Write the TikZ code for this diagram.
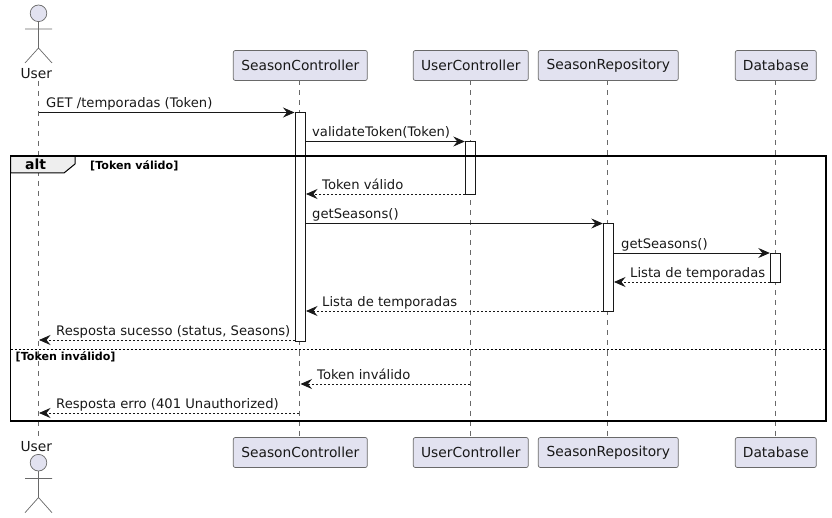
\documentclass[tikz,border=0pt]{standalone}
\usepackage{fontspec}
\setmainfont{DejaVu Sans}
\usetikzlibrary{arrows.meta}
\definecolor{pfill}{HTML}{E2E2F0}
\definecolor{pline}{HTML}{181818}
\definecolor{tabfill}{HTML}{EEEEEE}
\tikzset{
  part/.style={draw=pline!65!white,fill=pfill,rounded corners=2pt,line width=.7pt,minimum height=30pt,inner xsep=0pt,inner ysep=0pt,text=pline,font=\fontsize{13.8}{15}\selectfont},
  lifeline/.style={draw=pline!65!white,line width=.6pt,dash pattern=on 5pt off 5pt},
  bar/.style={draw=pline,fill=white,line width=.8pt,minimum width=10pt,inner sep=0pt,anchor=north},
  msg/.style={draw=pline,line width=.8pt,-{Stealth[length=11.5pt,width=10pt,inset=4pt]}},
  ret/.style={msg,dash pattern=on 2pt off 2pt},
  lbl/.style={anchor=base west,inner sep=0pt,text=pline,yshift=-.6pt,font=\fontsize{13.15}{15}\selectfont},
  frm/.style={anchor=base west,inner sep=0pt,text=black,font=\fontsize{11.1}{13}\bfseries\selectfont},
  actorline/.style={draw=pline!65!white,line width=.7pt},
}
\begin{document}
\begin{tikzpicture}[x=1pt,y=-1pt]
\useasboundingbox (0,0) rectangle (832,518);
% participants
\node[part,minimum width=134pt] (sc) at (300.3,65.5) {SeasonController};
\node[part,minimum width=115pt] (uc) at (470.8,65.5) {UserController};
\node[part,minimum width=140pt] (sr) at (608.3,65.5) {SeasonRepository};
\node[part,minimum width=81pt] (db) at (775.8,65.5) {Database};
\node[part,minimum width=134pt] (scb) at (300.3,452.5) {SeasonController};
\node[part,minimum width=115pt] (ucb) at (470.8,452.5) {UserController};
\node[part,minimum width=140pt] (srb) at (608.3,452.5) {SeasonRepository};
\node[part,minimum width=81pt] (dbb) at (775.8,452.5) {Database};
\node[inner sep=0pt,text=pline,font=\fontsize{13.8}{16}\selectfont] (ut) at (36.3,73.5) {User};
\node[inner sep=0pt,text=pline,font=\fontsize{13.8}{16}\selectfont] (ub) at (36.3,446.5) {User};
% lifelines
\coordinate (utl) at (38.5,81); \coordinate (ubl) at (38.5,437);
\coordinate (sct) at (299.3,80.5); \coordinate (scl) at (299.3,437.5);
\coordinate (uct) at (470.3,80.5); \coordinate (ucl) at (470.3,437.5);
\coordinate (srt) at (607.3,80.5); \coordinate (srl) at (607.3,437.5);
\coordinate (dbt) at (775.3,80.5); \coordinate (dbl) at (775.3,437.5);
\draw[lifeline] (utl) -- (ubl);
\draw[lifeline] (sct) -- (scl);
\draw[lifeline] (uct) -- (ucl);
\draw[lifeline] (srt) -- (srl);
\draw[lifeline] (dbt) -- (dbl);
% actors
\draw[actorline,fill=pfill] (38.5,13.3) circle (8.3);
\draw[actorline] (38.5,21.6) -- (38.5,48) (25,29) -- (52,29) (25,63) -- (38.5,48) -- (52,63);
\draw[actorline,fill=pfill] (38.5,462.7) circle (8.3);
\draw[actorline] (38.5,471) -- (38.5,497.5) (25,478.5) -- (52,478.5) (25,512.7) -- (38.5,497.5) -- (52,512.7);
% activations
\node[bar,minimum height=228pt] (a1) at (300.5,112.5) {};
\node[bar,minimum height=53pt] (a2) at (470.5,141) {};
\node[bar,minimum height=88pt] (a3) at (608.4,223) {};
\node[bar,minimum height=29pt] (a4) at (775.3,253) {};
% messages
\coordinate (u1) at (38.5,112.5);
\coordinate (s1) at (294.5,112.5);
\draw[msg] (u1) -- (s1);
\node[lbl] (t1) at (46,107) {GET /temporadas (Token)};
\coordinate (s2) at (305.5,141.5); \coordinate (c2) at (464.8,141.5);
\draw[msg] (s2) -- (c2);
\node[lbl] (t2) at (312,136) {validateToken(Token)};
\coordinate (c3) at (465,194); \coordinate (s3) at (306,194);
\draw[ret] (c3) -- (s3);
\node[lbl] (t3) at (322,189) {Token válido};
\coordinate (s4) at (305.5,223.5); \coordinate (r4) at (602.8,223.5);
\draw[msg] (s4) -- (r4);
\node[lbl] (t4) at (312,218) {getSeasons()};
\coordinate (r5) at (613.5,253); \coordinate (d5) at (769.8,253);
\draw[msg] (r5) -- (d5);
\node[lbl] (t5) at (621,248) {getSeasons()};
\coordinate (d6) at (769.8,282); \coordinate (r6) at (614,282);
\draw[ret] (d6) -- (r6);
\node[lbl] (t6) at (630,277) {Lista de temporadas};
\coordinate (r7) at (602.8,311); \coordinate (s7) at (306,311);
\draw[ret] (r7) -- (s7);
\node[lbl] (t7) at (322,306) {Lista de temporadas};
\coordinate (s8) at (295,340); \coordinate (u8) at (39,340);
\draw[ret] (s8) -- (u8);
\node[lbl] (t8) at (56,335) {Resposta sucesso (status, Seasons)};
\coordinate (c9) at (469.5,384); \coordinate (s9) at (300.5,384);
\draw[ret] (c9) -- (s9);
\node[lbl] (t9) at (317,379) {Token inválido};
\coordinate (s10) at (299,413); \coordinate (u10) at (39,413);
\draw[ret] (s10) -- (u10);
\node[lbl] (t10) at (56,408) {Resposta erro (401 Unauthorized)};
% frame
\draw[fill=tabfill,draw=black,line width=1pt] (10.5,156) -- (75,156) -- (75,164) -- (64,173) -- (10.5,173) -- cycle;
\draw[draw=black,line width=1.6pt] (10.5,156) rectangle (826,421);
\draw[draw=black,line width=.8pt,dash pattern=on 2pt off 2pt] (10.5,349.5) -- (826,349.5);
\node[anchor=base west,inner sep=0pt,text=black,font=\fontsize{14}{15}\bfseries\selectfont] (alt) at (25,170) {alt};
\node[frm] (g1) at (90,170) {[Token válido]};
\node[frm] (g2) at (15.5,360.5) {[Token inválido]};
\end{tikzpicture}
\end{document}
